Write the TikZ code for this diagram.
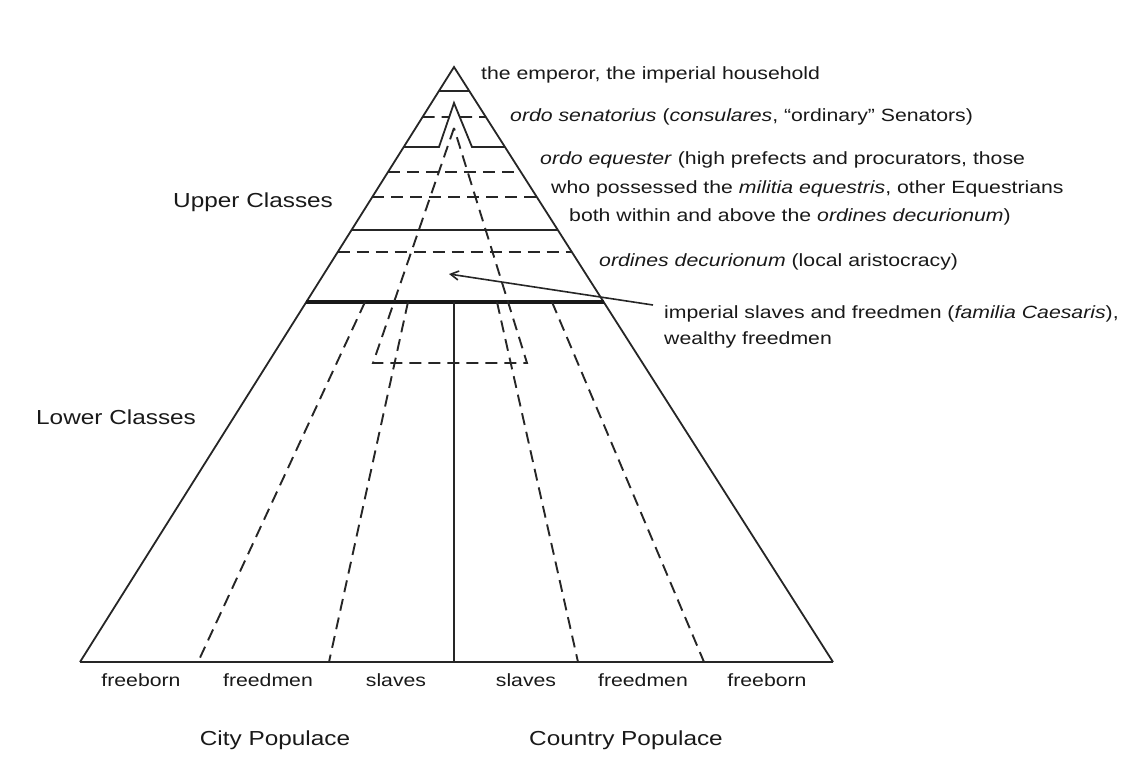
\documentclass[tikz,border=0pt]{standalone}
\usepackage{fontspec}
\setmainfont[FakeStretch=1.2]{Liberation Sans}
\usetikzlibrary{arrows.meta,calc}

\begin{document}
\begin{tikzpicture}[x=1pt,y=-1pt,
  edge/.style={line width=1.8pt,black!85,line join=miter},
  heavy/.style={line width=3.4pt,black!90},
  dline/.style={line width=1.9pt,black!85,dash pattern=on 12pt off 7pt},
  lab/.style={font=\fontsize{17.7}{20}\selectfont,anchor=base west,inner sep=0pt,text=black!90},
  big/.style={font=\fontsize{20.3}{24}\selectfont,anchor=base west,inner sep=0pt,text=black!90},
  foot/.style={font=\fontsize{17.7}{20}\selectfont,anchor=base,inner sep=0pt,text=black!90},
  bigfoot/.style={font=\fontsize{20.3}{24}\selectfont,anchor=base,inner sep=0pt,text=black!90},
  arrow/.style={line width=1.6pt,black!85,-{Straight Barb[length=8pt,width=9pt]}}]

\useasboundingbox (0,0) rectangle (1129,780);

% the pyramid
\coordinate (apex) at (454,67);
\coordinate (bl) at (80,662);
\coordinate (br) at (833,662);

\draw[edge] (bl) -- (apex) -- (br);
\draw[edge,line width=2.4pt] (bl) -- (br);

% upper classes: the strata
\draw[edge] ($(apex)!0.0403!(bl)$) -- ($(apex)!0.0403!(br)$);
\draw[dline] ($(apex)!0.084!(bl)$) -- (449,117);
\draw[dline] (460,117) -- ($(apex)!0.084!(br)$);
\draw[edge] ($(apex)!0.1345!(bl)$) -- (439,147) -- (454,103) -- (472,147)
  -- ($(apex)!0.1345!(br)$);
\foreach \t in {0.1765,0.2185,0.311}
  \draw[dline] ($(apex)!\t!(bl)$) -- ($(apex)!\t!(br)$);
\draw[edge,line width=2.2pt] ($(apex)!0.274!(bl)$) -- ($(apex)!0.274!(br)$);
\draw[heavy] ($(apex)!0.395!(bl)$) -- ($(apex)!0.395!(br)$);

% familia Caesaris
\draw[dline] (454,128) -- (373,363) -- (527,363) -- cycle;

% lower classes: city and country
\coordinate (cityfb) at (198,662);
\coordinate (cityfd) at (329,662);
\coordinate (mid) at (454,662);
\coordinate (ctryfd) at (578,662);
\coordinate (ctryfb) at (704,662);

\draw[edge] (454,302) -- (mid);
\draw[dline] (365,302) -- (cityfb);
\draw[dline] (408,302) -- (cityfd);
\draw[dline] (497,302) -- (ctryfd);
\draw[dline] (552,302) -- (ctryfb);

% labels on the right
\node[lab] (emp) at (481,79) {the emperor, the imperial household};
\node[lab] (sen) at (510,121)
  {\textit{ordo senatorius} (\textit{consulares}, ``ordinary'' Senators)};
\node[lab] (eqa) at (540,164)
  {\textit{ordo equester} (high prefects and procurators, those};
\node[lab] (eqb) at (551,193)
  {who possessed the \textit{militia equestris}, other Equestrians};
\node[lab] (eqc) at (569,221)
  {both within and above the \textit{ordines decurionum})};
\node[lab] (dec) at (599,266) {\textit{ordines decurionum} (local aristocracy)};
\node[lab] (fam) at (664,318)
  {imperial slaves and freedmen (\textit{familia Caesaris}),};
\node[lab] (wea) at (664,344) {wealthy freedmen};

\coordinate (famtail) at (653,305);
\coordinate (famhead) at (449,274);
\draw[arrow] (famtail) -- (famhead);

% labels on the left
\node[big] (upper) at (173,207) {Upper Classes};
\node[big] (lower) at (36,424) {Lower Classes};

% labels under the base
\node[foot] (fb1) at (141,686) {freeborn};
\node[foot] (fd1) at (268,686) {freedmen};
\node[foot] (sl1) at (396,686) {slaves};
\node[foot] (sl2) at (526,686) {slaves};
\node[foot] (fd2) at (643,686) {freedmen};
\node[foot] (fb2) at (767,686) {freeborn};

\node[bigfoot] (city) at (275,745) {City Populace};
\node[bigfoot] (country) at (626,745) {Country Populace};
\end{tikzpicture}
\end{document}
